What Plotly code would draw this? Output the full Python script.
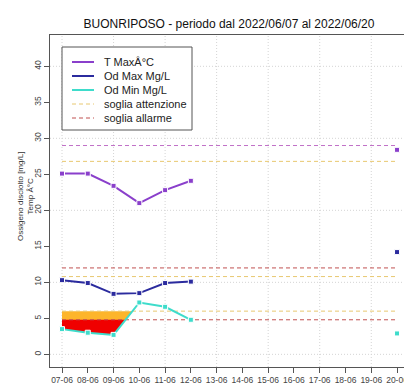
import pandas as pd
import plotly.graph_objects as go

# ---------------- data ----------------
dates = pd.date_range("2022-06-07", "2022-06-20").strftime("%Y-%m-%d").tolist()
t_max = [25.1, 25.1, 23.4, 21.0, 22.8, 24.1, None, None, None, None, None, None, None, 28.4]
od_max = [10.3, 9.9, 8.4, 8.5, 9.9, 10.1, None, None, None, None, None, None, None, 14.2]
od_min = [3.5, 3.0, 2.7, 7.2, 6.6, 4.8, None, None, None, None, None, None, None, 2.9]

t_allarme = 29.0
t_attenzione = 26.8
odmax_allarme = 12.0
odmax_attenzione = 10.8
odmin_attenzione = 6.0
odmin_allarme = 4.8

y_ticks = [0, 5, 10, 15, 20, 25, 30, 35, 40]
grid_y = [0, 10, 20, 30, 40]
grid_x = dates[::2]

title_text = "BUONRIPOSO - periodo dal 2022/06/07 al 2022/06/20"
y_title = "Ossigeno disciolto [mg/L]<br>Temp Â°C"
legend_names = ["T MaxÂ°C", "Od Max Mg/L", "Od Min Mg/L", "soglia attenzione", "soglia allarme"]

# ---------------- styles ----------------
C_T = "#8A3FCB"
C_MAX = "#2B2B9E"
C_MIN = "#3EDCCB"
C_ATT = "#E8C870"
C_ALL = "#C05050"
C_TALL = "#C070C8"
C_ORANGE = "#FDB52B"
C_RED = "#F00000"
FONT = "Liberation Sans, Arial, sans-serif"
DASH = "4px,3px"

W, H = 404, 385
L, T, PW, PH = 50, 35, 354, 332
B = H - T - PH

day0 = pd.Timestamp(dates[0])
def day_to_date(d):
    return (day0 + pd.Timedelta(days=d)).strftime("%Y-%m-%d %H:%M:%S")

def px_x(px):
    return (px - L) / PW

def px_y(py):
    return (T + PH - py) / PH

def below_polys(vals, thr):
    """polygons (in day units) of the area between the series and thr where series < thr"""
    polys, cur = [], None
    n = len(vals)
    for i in range(n):
        v = vals[i]
        if v is None:
            if cur is not None:
                cur.append((i - 1, thr)); polys.append(cur); cur = None
            continue
        if i > 0 and vals[i - 1] is not None:
            p = vals[i - 1]
            if (p - thr) * (v - thr) < 0:
                xc = (i - 1) + (thr - p) / (v - p)
                if cur is None:
                    cur = [(xc, thr)]
                else:
                    cur.append((xc, thr)); polys.append(cur); cur = None
        if v < thr:
            if cur is None:
                cur = [(i, thr)]
            cur.append((i, v))
    if cur is not None:
        cur.append((cur[-1][0], thr)); polys.append(cur)
    return [p for p in polys if len(p) > 3]

fig = go.Figure()

# fills
for thr, col in [(odmin_attenzione, C_ORANGE), (odmin_allarme, C_RED)]:
    for poly in below_polys(od_min, thr):
        fig.add_trace(go.Scatter(
            x=[day_to_date(p[0]) for p in poly], y=[p[1] for p in poly],
            fill="toself", fillcolor=col, line=dict(width=0), mode="lines",
            hoverinfo="skip", showlegend=False))

# threshold lines
for val, col in [(t_allarme, C_TALL), (t_attenzione, C_ATT), (odmax_allarme, C_ALL),
                 (odmax_attenzione, C_ATT), (odmin_attenzione, C_ATT), (odmin_allarme, C_ALL)]:
    fig.add_trace(go.Scatter(x=[dates[0], dates[-1]], y=[val, val], mode="lines",
                             line=dict(color=col, width=1, dash=DASH), showlegend=False))

# series
for ys, col in [(t_max, C_T), (od_max, C_MAX), (od_min, C_MIN)]:
    fig.add_trace(go.Scatter(x=dates, y=ys, mode="lines+markers",
                             line=dict(color=col, width=2),
                             marker=dict(symbol="square", size=5, color=col,
                                         line=dict(color="white", width=1)),
                             connectgaps=False, showlegend=False))

shapes = []
for gx in grid_x:
    shapes.append(dict(type="line", xref="x", yref="paper", x0=gx, x1=gx, y0=0, y1=1,
                       line=dict(color="#D4D4D4", width=1, dash="1px,2px"), layer="below"))
for gy in grid_y:
    shapes.append(dict(type="line", xref="paper", yref="y", x0=0, x1=1, y0=gy, y1=gy,
                       line=dict(color="#D4D4D4", width=1, dash="1px,2px"), layer="below"))

# manual legend (R style)
lx0, lx1, ly0, ly1 = 62, 192, 47, 130
shapes.append(dict(type="rect", xref="paper", yref="paper", x0=px_x(lx0), x1=px_x(lx1),
                   y0=px_y(ly1), y1=px_y(ly0), line=dict(color="#555555", width=1),
                   fillcolor="white", layer="above"))
leg_styles = [(C_T, "solid"), (C_MAX, "solid"), (C_MIN, "solid"), (C_ATT, DASH), (C_ALL, DASH)]
annotations = []
for k, (name, (col, dash)) in enumerate(zip(legend_names, leg_styles)):
    ry = 62 + 14 * k
    shapes.append(dict(type="line", xref="paper", yref="paper", x0=px_x(72), x1=px_x(94),
                       y0=px_y(ry), y1=px_y(ry),
                       line=dict(color=col, width=2 if dash == "solid" else 1, dash=dash),
                       layer="above"))
    annotations.append(dict(text=name, xref="paper", yref="paper", x=px_x(102), y=px_y(ry),
                            xanchor="left", yanchor="middle", showarrow=False,
                            font=dict(size=11, color="#222222", family=FONT)))

annotations.append(dict(text=y_title, xref="paper", yref="paper", x=px_x(25), y=px_y(197),
                        xanchor="center", yanchor="middle", showarrow=False, textangle=-90,
                        font=dict(size=8, color="#333333", family=FONT)))

fig.update_layout(
    width=W, height=H, margin=dict(l=L, r=0, t=T, b=B),
    paper_bgcolor="white", plot_bgcolor="white",
    title=dict(text=title_text, x=(229 - L) / PW, xref="paper", xanchor="center",
               y=1 - 24 / H, yref="container", yanchor="middle",
               font=dict(size=12, color="#111111", family=FONT)),
    shapes=shapes, annotations=annotations,
    xaxis=dict(type="date", range=[day_to_date(-0.466), day_to_date(13.27)],
               tick0=dates[0], dtick=86400000, tickformat="%d-%m",
               showgrid=False, zeroline=False, showline=True, mirror=True,
               linecolor="#555555", linewidth=1, ticks="outside", ticklen=5,
               tickcolor="#555555", tickfont=dict(size=8.5, color="#444444", family=FONT),
               ticklabeloverflow="allow", automargin=False),
    yaxis=dict(range=[-1.76, 44.35], tickvals=y_ticks, showgrid=False, zeroline=False,
               showline=True, linecolor="#555555", linewidth=1, ticks="outside", ticklen=5,
               tickcolor="#555555", tickangle=-90,
               tickfont=dict(size=8.5, color="#444444", family=FONT), automargin=False),
    showlegend=False,
)

fig.write_html("out.html", config={"displayModeBar": False},
               post_script="document.body.style.margin='0';document.body.style.overflow='hidden';")
